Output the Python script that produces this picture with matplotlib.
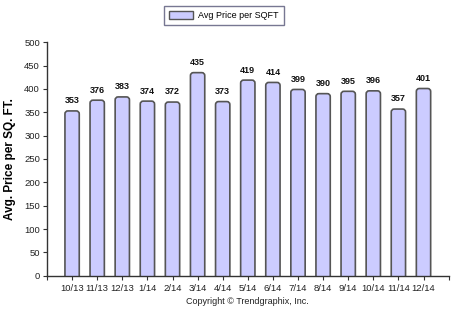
import matplotlib
matplotlib.use("Agg")
import matplotlib.pyplot as plt
from matplotlib.patches import FancyBboxPatch, Patch

plt.rcParams['font.family'] = ['Liberation Sans', 'DejaVu Sans']

months = ["10/13", "11/13", "12/13", "1/14", "2/14", "3/14", "4/14", "5/14",
          "6/14", "7/14", "8/14", "9/14", "10/14", "11/14", "12/14"]
price_per_sqft = [353, 376, 383, 374, 372, 435, 373, 419,
                  414, 399, 390, 395, 396, 357, 401]
y_ticks = [0, 50, 100, 150, 200, 250, 300, 350, 400, 450, 500]

W, H = 473, 326
fig = plt.figure(figsize=(W / 100, H / 100), dpi=100)
ax = fig.add_axes([47 / W, 1 - 275.7 / H, (448.6 - 47) / W, (275.7 - 42.3) / H])

fill = "#CCCCFF"
edge = "#555555"
xs = list(range(len(months)))
ax.set_xlim(-1, len(months))
ax.set_ylim(0, 500)

bars = ax.bar(xs, price_per_sqft, width=0.57, color="none", edgecolor="none")

# rounded-top bars drawn over each bar's footprint
x_per_px = (len(months) + 1) / (448.6 - 47)
y_per_px = 500 / (275.7 - 42.3)
for rect in bars:
    x0, w, h = rect.get_x(), rect.get_width(), rect.get_height()
    p = FancyBboxPatch((x0, -20), w, h + 20,
                       boxstyle="round,pad=0,rounding_size=%f" % (3 * x_per_px),
                       mutation_aspect=y_per_px / x_per_px,
                       facecolor=fill, edgecolor=edge, linewidth=1.2,
                       clip_on=True, zorder=2)
    ax.add_patch(p)

for x, v in zip(xs, price_per_sqft):
    ax.annotate(str(v), (x, v), xytext=(0, 4), textcoords="offset points",
                ha="center", va="bottom", fontsize=6.5, fontweight="bold",
                color="#111111")

ax.set_xticks(xs)
ax.set_xticklabels(months, fontsize=6.8, color="#222222")
ax.set_xticks([-1, len(months)], minor=True)
ax.tick_params(axis="x", which="both", direction="out", length=3, width=0.8,
               color="#333333", pad=3)
ax.set_yticks(y_ticks)
ax.set_yticklabels([str(t) for t in y_ticks], fontsize=6.8, color="#222222")
ax.tick_params(axis="y", direction="out", length=3, width=0.8, color="#333333", pad=2)

for s in ("top", "right"):
    ax.spines[s].set_visible(False)
for s in ("left", "bottom"):
    ax.spines[s].set_color("#333333")
    ax.spines[s].set_linewidth(1.0)

ax.set_ylabel("Avg. Price per SQ. FT.", fontsize=8.5, fontweight="bold", labelpad=6)

leg = fig.legend(handles=[Patch(facecolor=fill, edgecolor=edge, linewidth=1.0,
                                label="Avg Price per SQFT")],
                 loc="center", bbox_to_anchor=(224 / W, 1 - 15.5 / H),
                 fontsize=6.5, frameon=True, fancybox=False,
                 handlelength=2.6, handleheight=1.0, borderpad=0.55,
                 handletextpad=0.6)
leg.get_frame().set_edgecolor("#555577")
leg.get_frame().set_linewidth(1.0)

fig.text(247 / W, 1 - 302 / H, "Copyright \u00a9 Trendgraphix, Inc.",
         ha="center", va="center", fontsize=6.5, color="#222222")

fig.savefig("out.png", dpi=100)
